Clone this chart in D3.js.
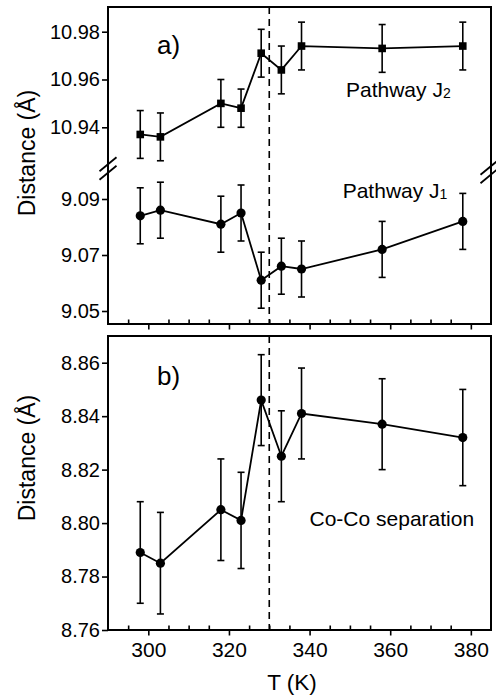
<!DOCTYPE html>
<html>
<head>
<meta charset="utf-8">
<script src="https://cdn.jsdelivr.net/npm/d3@7/dist/d3.min.js"></script>
<style>
  html, body { margin: 0; padding: 0; background: #fff; }
  svg { display: block; }
  text { font-family: "Liberation Sans", Arial, sans-serif; fill: #000; }
</style>
</head>
<body>
<svg id="chart" width="496" height="698"></svg>
<script>
// ---- data ----
const temperatures = [298, 303, 318, 323, 328, 333, 338, 358, 378];
const pathwayJ2 = [10.937, 10.936, 10.950, 10.948, 10.971, 10.964, 10.974, 10.973, 10.974];
const pathwayJ2Err = [0.010, 0.010, 0.010, 0.008, 0.010, 0.010, 0.010, 0.010, 0.010];
const pathwayJ1 = [9.084, 9.086, 9.081, 9.085, 9.061, 9.066, 9.065, 9.072, 9.082];
const pathwayJ1Err = [0.010, 0.010, 0.010, 0.010, 0.010, 0.010, 0.010, 0.010, 0.010];
const coCoSep = [8.789, 8.785, 8.805, 8.801, 8.846, 8.825, 8.841, 8.837, 8.832];
const coCoSepErr = [0.019, 0.019, 0.019, 0.018, 0.017, 0.017, 0.017, 0.017, 0.018];
const xMajorTicks = [300, 320, 340, 360, 380];
const xMinorTicks = [295, 305, 310, 315, 325, 330, 335, 345, 350, 355, 365, 370, 375];
const yTicksUpper = [10.94, 10.96, 10.98];
const yTicksLower = [9.05, 9.07, 9.09];
const yTicksBottom = [8.76, 8.78, 8.80, 8.82, 8.84, 8.86];
const transitionT = 330;

// ---- layout ----
const svg = d3.select("#chart");
const L = 108, R = 491;
const topA = 7, botA = 324;
const topB = 336, botB = 630;

const x = d3.scaleLinear().domain([290, 385]).range([L, R]);
const yU = d3.scaleLinear().domain([10.94, 10.98]).range([127.3, 31.7]);
const yL = d3.scaleLinear().domain([9.05, 9.09]).range([311, 199]);
const yB = d3.scaleLinear().domain([8.76, 8.86]).range([630, 362.7]);

const fmt = d3.format(".2f");

function yAxis(scale, ticks) {
  const g = svg.append("g").attr("transform", `translate(${L},0)`)
    .call(d3.axisLeft(scale).tickValues(ticks).tickFormat(fmt).tickSize(6).tickPadding(2).tickSizeOuter(0));
  g.select(".domain").remove();
  g.selectAll("line").attr("stroke", "#000").attr("stroke-width", 1.6);
  g.selectAll("text").attr("font-size", 20);
}

function xAxis(yPos, labels) {
  const gMaj = svg.append("g").attr("transform", `translate(0,${yPos})`)
    .call(d3.axisBottom(x).tickValues(xMajorTicks).tickSize(5.5).tickPadding(7)
      .tickFormat(labels ? d3.format("d") : () => ""));
  gMaj.select(".domain").remove();
  gMaj.selectAll("line").attr("stroke", "#000").attr("stroke-width", 1.6);
  gMaj.selectAll("text").attr("font-size", 21);
  const gMin = svg.append("g").attr("transform", `translate(0,${yPos})`)
    .call(d3.axisTop(x).tickValues(xMinorTicks).tickSize(4.5).tickFormat(() => ""));
  gMin.select(".domain").remove();
  gMin.selectAll("line").attr("stroke", "#000").attr("stroke-width", 1.6);
}

yAxis(yU, yTicksUpper);
yAxis(yL, yTicksLower);
yAxis(yB, yTicksBottom);
xAxis(botA, false);
xAxis(botB, true);

// frames
svg.append("rect").attr("x", L).attr("y", topA).attr("width", R - L).attr("height", botA - topA)
  .attr("fill", "none").attr("stroke", "#000").attr("stroke-width", 2);
svg.append("rect").attr("x", L).attr("y", topB).attr("width", R - L).attr("height", botB - topB)
  .attr("fill", "none").attr("stroke", "#000").attr("stroke-width", 2);

// axis break marks
function breakMark(cx, cy) {
  [-4.2, 4.2].forEach(o => {
    svg.append("line")
      .attr("x1", cx - 8.5).attr("y1", cy + o + 7)
      .attr("x2", cx + 8.5).attr("y2", cy + o - 7)
      .attr("stroke", "#000").attr("stroke-width", 1.8);
  });
}
breakMark(L, 168.5);
breakMark(R - 2, 172);

// dashed transition line
[[topA, botA], [topB, botB]].forEach(([a, b]) => {
  svg.append("line")
    .attr("x1", x(transitionT)).attr("x2", x(transitionT))
    .attr("y1", a).attr("y2", b)
    .attr("stroke", "#000").attr("stroke-width", 1.6)
    .attr("stroke-dasharray", "7,5");
});

// series drawing
function series(vals, errs, yScale, marker) {
  const pts = temperatures.map((t, i) => ({ t, v: vals[i], e: errs[i] }));
  const g = svg.append("g");
  // error bars
  pts.forEach(p => {
    const xx = x(p.t), y1 = yScale(p.v - p.e), y2 = yScale(p.v + p.e);
    g.append("line").attr("x1", xx).attr("x2", xx).attr("y1", y1).attr("y2", y2)
      .attr("stroke", "#000").attr("stroke-width", 1.6);
    [y1, y2].forEach(yy => g.append("line").attr("x1", xx - 3.5).attr("x2", xx + 3.5)
      .attr("y1", yy).attr("y2", yy).attr("stroke", "#000").attr("stroke-width", 1.6));
  });
  // line
  g.append("path").datum(pts)
    .attr("d", d3.line().x(d => x(d.t)).y(d => yScale(d.v)))
    .attr("fill", "none").attr("stroke", "#000").attr("stroke-width", 1.8);
  // markers
  if (marker === "square") {
    g.selectAll("rect.m").data(pts).join("rect")
      .attr("x", d => x(d.t) - 3.8).attr("y", d => yScale(d.v) - 3.8)
      .attr("width", 7.6).attr("height", 7.6).attr("fill", "#000");
  } else {
    g.selectAll("circle.m").data(pts).join("circle")
      .attr("cx", d => x(d.t)).attr("cy", d => yScale(d.v)).attr("r", 4.6).attr("fill", "#000");
  }
}
series(pathwayJ2, pathwayJ2Err, yU, "square");
series(pathwayJ1, pathwayJ1Err, yL, "circle");
series(coCoSep, coCoSepErr, yB, "circle");

// labels
svg.append("text").attr("x", 157).attr("y", 54).attr("font-size", 26).text("a)");
svg.append("text").attr("x", 157).attr("y", 384.5).attr("font-size", 26).text("b)");

function pathwayLabel(xp, yp, sub) {
  const t = svg.append("text").attr("x", xp).attr("y", yp).attr("font-size", 21);
  t.append("tspan").text("Pathway J");
  t.append("tspan").attr("font-size", 14).attr("dy", 1).text(sub);
}
pathwayLabel(346, 96.7, "2");
pathwayLabel(342.7, 198, "1");
svg.append("text").attr("x", 309.5).attr("y", 525.7).attr("font-size", 21).text("Co-Co separation");

svg.append("text").attr("transform", "translate(35,153) rotate(-90)")
  .attr("text-anchor", "middle").attr("font-size", 23).text("Distance (Å)");
svg.append("text").attr("transform", "translate(35,458) rotate(-90)")
  .attr("text-anchor", "middle").attr("font-size", 23).text("Distance (Å)");
svg.append("text").attr("x", 292).attr("y", 690).attr("text-anchor", "middle")
  .attr("font-size", 22.5).text("T (K)");
</script>
</body>
</html>
